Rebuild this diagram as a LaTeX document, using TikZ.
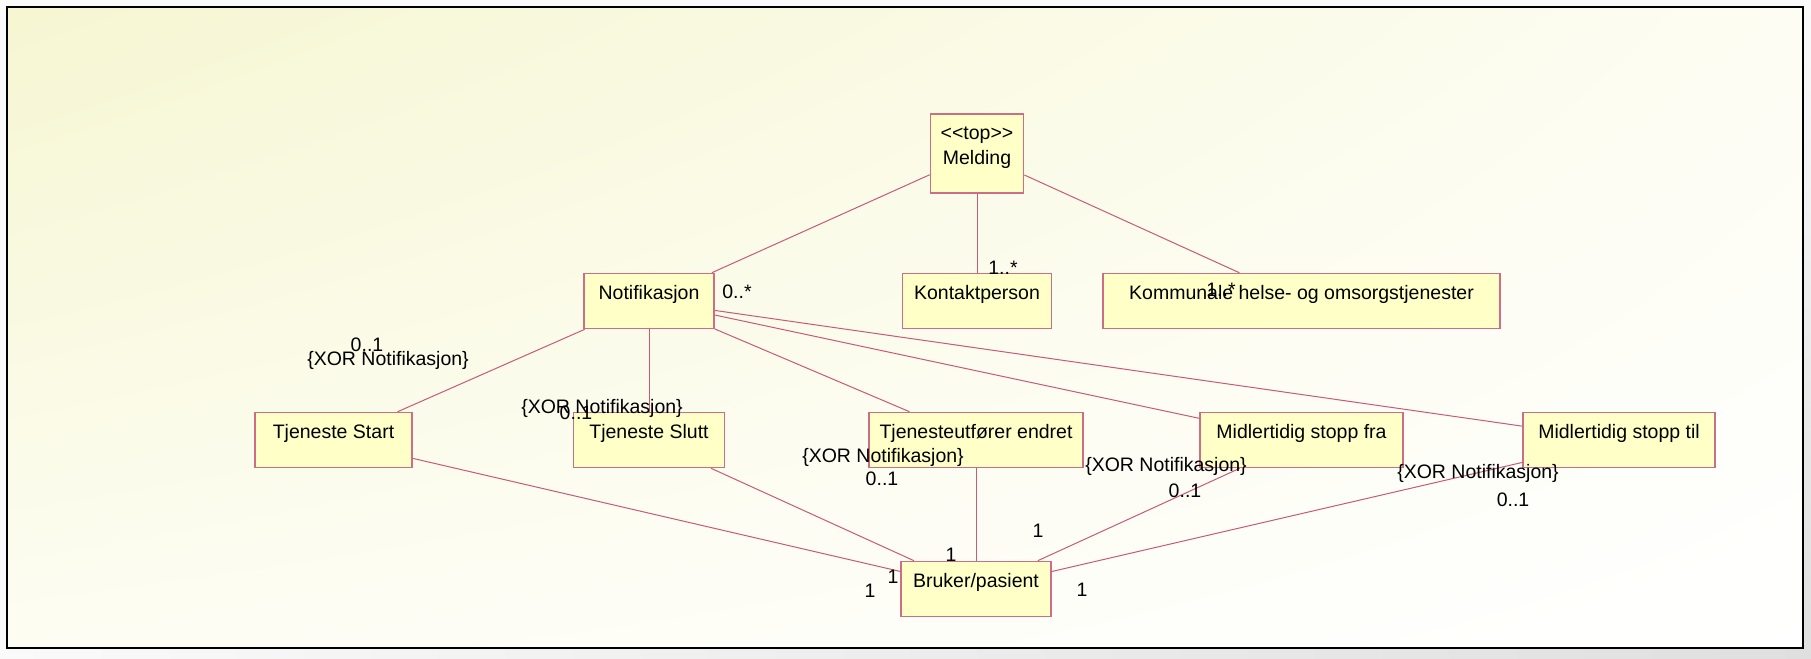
\documentclass[tikz,border=0pt]{standalone}
\usepackage{fontspec}
\newfontfamily\umlfont{Liberation Sans}
\usetikzlibrary{shadings}

\definecolor{clsfill}{RGB}{255,255,200}
\definecolor{clsedge}{RGB}{205,110,135}
\definecolor{assoccol}{RGB}{200,90,120}
\definecolor{bgyellow}{RGB}{246,246,210}
\definecolor{bgpale}{RGB}{253,253,243}

\tikzset{
	cls/.style={draw=clsedge, fill=clsfill, line width=0.8pt, inner xsep=0pt, inner ysep=2pt,
		text height=11pt, text depth=12.5pt, font=\umlfont\fontsize{9.75}{12.75}\selectfont},
	mult/.style={inner sep=0pt, font=\umlfont\fontsize{9.75}{12.75}\selectfont},
	assoc/.style={draw=assoccol, line width=0.5pt}
}

\begin{document}
\begin{tikzpicture}[x=0.5pt,y=-0.5pt]
		
		\useasboundingbox (0,0) rectangle (1811,659);
		\fill[gray!4] (0,0) rectangle (1811,659);
		\shade[left color=gray!4, right color=gray!25] (7,648) rectangle (1811,659);
		\shade[top color=gray!4, bottom color=gray!25] (1803,7) rectangle (1811,659);
		\shade[upper left=bgyellow, upper right=bgpale, lower left=bgpale, lower right=white] (7,7) rectangle (1803,648);
		\draw[line width=1pt] (7,7) rectangle (1803,648);
		
		% classes
		\node[cls, minimum width=46.5pt, text height=10.5pt, text depth=25pt] (melding) at (977,153.5)
			{\begin{tabular}[t]{@{}c@{}}<<top>>\\Melding\end{tabular}};
		\node[cls, minimum width=74.5pt] (kontakt) at (977,301) {Kontaktperson};
		\node[cls, minimum width=198.5pt] (kommunale) at (1301.5,301) {Kommunale helse- og omsorgstjenester};
		\node[cls, minimum width=65pt] (notif) at (649,301) {Notifikasjon};
		\node[cls, minimum width=78.5pt] (tstart) at (333.5,440) {Tjeneste Start};
		\node[cls, minimum width=75.5pt] (tslutt) at (649,440) {Tjeneste Slutt};
		\node[cls, minimum width=107pt] (tendret) at (976,440) {Tjenesteutfører endret};
		\node[cls, minimum width=101.5pt] (mfra) at (1301.5,440) {Midlertidig stopp fra};
		\node[cls, minimum width=96pt] (mtil) at (1619,440) {Midlertidig stopp til};
		\node[cls, minimum width=75pt] (bruker) at (976,589) {Bruker/pasient};
		
		% associations
		\draw[assoc] (melding) -- (notif);
		\draw[assoc] (melding) -- (kontakt);
		\draw[assoc] (melding) -- (kommunale);
		\foreach \c in {tstart,tslutt,tendret,mfra,mtil} {
			\draw[assoc] (notif) -- (\c);
			\draw[assoc] (\c) -- (bruker);
		}
		
		% multiplicities
		\node[mult] (m-notif) at (737,292) {0..*};
		\node[mult] (m-kontakt) at (1003,268) {1..*};
		\node[mult] (m-kommunale) at (1221,290) {1..*};
		\node[mult] (m-tstart) at (367,345) {0..1};
		\node[mult] (x-tstart) at (388,360) {\{XOR Notifikasjon\}};
		\node[mult] (x-tslutt) at (602,408) {\{XOR Notifikasjon\}};
		\node[mult] (m-tslutt) at (576,413) {0..1};
		\node[mult] (x-tendret) at (883,457) {\{XOR Notifikasjon\}};
		\node[mult] (m-tendret) at (882,479) {0..1};
		\node[mult] (x-mfra) at (1166,466) {\{XOR Notifikasjon\}};
		\node[mult] (m-mfra) at (1185,491) {0..1};
		\node[mult] (x-mtil) at (1478,473) {\{XOR Notifikasjon\}};
		\node[mult] (m-mtil) at (1513,500) {0..1};
		\node[mult] (b-tstart) at (870,591) {1};
		\node[mult] (b-tslutt) at (893,577) {1};
		\node[mult] (b-tendret) at (951,555) {1};
		\node[mult] (b-mfra) at (1038,531) {1};
		\node[mult] (b-mtil) at (1082,590) {1};
	
\end{tikzpicture}
\end{document}
